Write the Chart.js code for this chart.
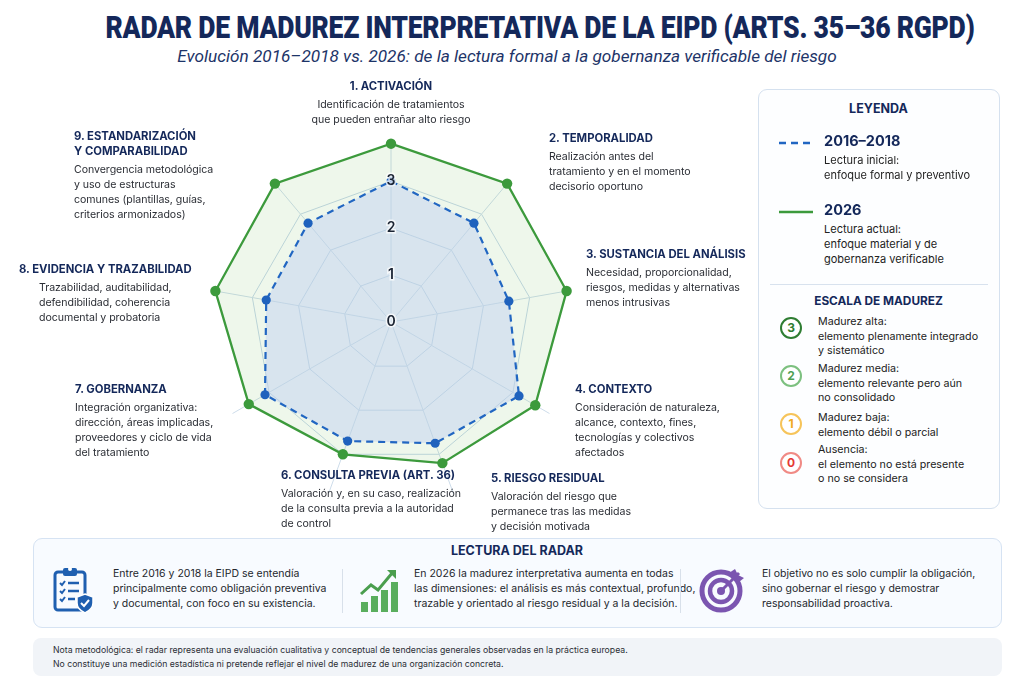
<!DOCTYPE html>
<html lang="es">
<head>
<meta charset="utf-8">
<script src="https://cdn.jsdelivr.net/npm/chart.js@4.4.1/dist/chart.umd.min.js"></script>
<style>
  html,body{margin:0;padding:0;background:#fff;}
  body{width:1024px;height:683px;position:relative;overflow:hidden;font-family:'Inter','Open Sans',sans-serif;color:#2a2d33;}
  .abs{position:absolute;}
  #title{left:0;top:8px;width:1080px;text-align:center;white-space:nowrap;}
  #title span{display:inline-block;font-family:'Roboto',sans-serif;font-weight:900;font-size:32px;color:#14285a;transform-origin:center;letter-spacing:-0.3px;}
  #subtitle{left:0;top:46px;width:1014px;text-align:center;font-family:'Roboto',sans-serif;font-style:italic;font-size:17.2px;color:#1d3468;}
  .lbl{position:absolute;font-size:10.6px;line-height:15px;color:#2b2e35;letter-spacing:-0.05px;}
  .lbl .h{font-weight:700;font-size:11.3px;color:#14285a;line-height:15px;margin-bottom:3px;white-space:nowrap;letter-spacing:0;}
  .lbl .d{white-space:nowrap;}
  #chartBox{left:181px;top:109px;width:420px;height:426px;}
  #legend{left:758px;top:89px;width:242px;height:420px;border:1.5px solid #d5e1ef;border-radius:9px;background:#fdfeff;box-sizing:border-box;}
  .lg{position:absolute;white-space:nowrap;}
  .navyB{color:#14285a;font-weight:700;}
  .circ{position:absolute;width:22px;height:22px;border-radius:50%;border:2px solid;box-sizing:border-box;text-align:center;line-height:18px;font-size:12px;font-weight:700;background:#fff;}
  #reading{left:33px;top:538px;width:969px;height:90px;border:1.5px solid #d6e3f3;border-radius:9px;background:#f8fbff;box-sizing:border-box;}
  .rt{position:absolute;top:27px;font-size:10.5px;line-height:15px;color:#24272d;white-space:nowrap;}
  .vdiv{position:absolute;top:30px;width:1px;height:44px;background:#d8e0ea;}
  #note{left:33px;top:638px;width:969px;height:38px;border-radius:8px;background:#f1f4f8;}
  #note div{position:absolute;left:20px;font-size:8.7px;color:#2b2e35;white-space:nowrap;}
</style>
</head>
<body>
<div id="title" class="abs"><span id="titleText">RADAR DE MADUREZ INTERPRETATIVA DE LA EIPD (ARTS. 35–36 RGPD)</span></div>
<div id="subtitle" class="abs">Evolución 2016–2018 vs. 2026: de la lectura formal a la gobernanza verificable del riesgo</div>

<div id="chartBox" class="abs"><canvas id="radar"></canvas></div>
<div id="labels"></div>

<div id="legend" class="abs">
  <div class="lg navyB" style="left:0;width:239px;text-align:center;top:11px;font-size:12.5px;">LEYENDA</div>
  <svg class="lg" style="left:20px;top:50px" width="34" height="6"><line x1="0" y1="3" x2="34" y2="3" stroke="#2166c2" stroke-width="2.5" stroke-dasharray="7,5"/></svg>
  <div class="lg navyB" style="left:65px;top:42px;font-size:14.5px;">2016–2018</div>
  <div class="lg" style="left:65px;top:63px;font-size:11px;line-height:15px;color:#222;">Lectura inicial:<br>enfoque formal y preventivo</div>
  <svg class="lg" style="left:20px;top:119px" width="34" height="6"><line x1="0" y1="3" x2="34" y2="3" stroke="#3c9a3c" stroke-width="2.6"/></svg>
  <div class="lg navyB" style="left:65px;top:111px;font-size:14.5px;">2026</div>
  <div class="lg" style="left:65px;top:132px;font-size:11px;line-height:15px;color:#222;">Lectura actual:<br>enfoque material y de<br>gobernanza verificable</div>
  <div class="lg" style="left:11px;top:194px;width:218px;height:1px;background:#d8e2ee;"></div>
  <div class="lg navyB" style="left:0;width:239px;text-align:center;top:204px;font-size:11.8px;">ESCALA DE MADUREZ</div>
  <div class="circ" style="left:21px;top:227px;border-color:#2e7d32;color:#2e7d32;">3</div>
  <div class="lg" style="left:59px;top:225px;font-size:10.7px;line-height:14.7px;color:#222;">Madurez alta:<br>elemento plenamente integrado<br>y sistemático</div>
  <div class="circ" style="left:21px;top:275px;border-color:#7cc07f;color:#4e9f52;">2</div>
  <div class="lg" style="left:59px;top:272px;font-size:10.7px;line-height:14.7px;color:#222;">Madurez media:<br>elemento relevante pero aún<br>no consolidado</div>
  <div class="circ" style="left:21px;top:323px;border-color:#f6c45a;color:#f0a820;">1</div>
  <div class="lg" style="left:59px;top:321px;font-size:10.7px;line-height:14.7px;color:#222;">Madurez baja:<br>elemento débil o parcial</div>
  <div class="circ" style="left:21px;top:362px;border-color:#f08a85;color:#e53935;">0</div>
  <div class="lg" style="left:59px;top:353px;font-size:10.7px;line-height:14.7px;color:#222;">Ausencia:<br>el elemento no está presente<br>o no se considera</div>
</div>

<div id="reading" class="abs">
  <div class="abs navyB" style="left:0;width:966px;text-align:center;top:4px;font-size:12.5px;">LECTURA DEL RADAR</div>
  <!-- portapapeles -->
  <svg class="abs" style="left:19px;top:27px" width="42" height="48" viewBox="0 0 42 48">
    <rect x="2" y="6" width="30" height="38" rx="3" fill="none" stroke="#1f5fb0" stroke-width="3"/>
    <rect x="10" y="2" width="14" height="8" rx="2" fill="#1f5fb0"/>
    <circle cx="17" cy="3" r="2" fill="#fff"/>
    <path d="M7 17l2 2 3-4M7 25l2 2 3-4M7 33l2 2 3-4" fill="none" stroke="#1f5fb0" stroke-width="2"/>
    <path d="M15 17h11M15 25h11M15 33h7" stroke="#1f5fb0" stroke-width="2.4"/>
    <path d="M32 28l8 3v6c0 5-4 8-8 10-4-2-8-5-8-10v-6z" fill="#1f5fb0" stroke="#fff" stroke-width="1.5"/>
    <path d="M28 37l3 3 5-6" fill="none" stroke="#fff" stroke-width="2"/>
  </svg>
  <div class="rt" style="left:79px;">Entre 2016 y 2018 la EIPD se entendía<br>principalmente como obligación preventiva<br>y documental, con foco en su existencia.</div>
  <div class="vdiv" style="left:308px;"></div>
  <!-- crecimiento -->
  <svg class="abs" style="left:325px;top:27px" width="42" height="48" viewBox="0 0 42 48">
    <rect x="2" y="36" width="7" height="10" fill="#5aae5e"/>
    <rect x="12" y="30" width="7" height="16" fill="#5aae5e"/>
    <rect x="22" y="24" width="7" height="22" fill="#5aae5e"/>
    <rect x="32" y="16" width="7" height="30" fill="#5aae5e"/>
    <path d="M2 28l10-9 7 5 15-18" fill="none" stroke="#4a9e4e" stroke-width="3"/>
    <path d="M28 4h9v9z" fill="#4a9e4e"/>
  </svg>
  <div class="rt" style="left:380px;">En 2026 la madurez interpretativa aumenta en todas<br>las dimensiones: el análisis es más contextual, profundo,<br>trazable y orientado al riesgo residual y a la decisión.</div>
  <div class="vdiv" style="left:646px;"></div>
  <!-- diana -->
  <svg class="abs" style="left:665px;top:26px" width="48" height="48" viewBox="0 0 48 48">
    <circle cx="22" cy="26" r="19" fill="none" stroke="#7b55b0" stroke-width="5"/>
    <circle cx="22" cy="26" r="11" fill="none" stroke="#7b55b0" stroke-width="4.5"/>
    <circle cx="22" cy="26" r="4" fill="#7b55b0"/>
    <path d="M22 26L40 8" stroke="#7b55b0" stroke-width="3"/>
    <path d="M36 4l3 6 6 3-5 4-7-3-3-6z" fill="#7b55b0"/>
  </svg>
  <div class="rt" style="left:728px;">El objetivo no es solo cumplir la obligación,<br>sino gobernar el riesgo y demostrar<br>responsabilidad proactiva.</div>
</div>

<div id="note" class="abs">
  <div style="top:7px;">Nota metodológica: el radar representa una evaluación cualitativa y conceptual de tendencias generales observadas en la práctica europea.</div>
  <div style="top:21px;">No constituye una medición estadística ni pretende reflejar el nivel de madurez de una organización concreta.</div>
</div>

<script>
// ── datos del radar ──
const categorias=['1. ACTIVACIÓN','2. TEMPORALIDAD','3. SUSTANCIA DEL ANÁLISIS','4. CONTEXTO','5. RIESGO RESIDUAL','6. CONSULTA PREVIA (ART. 36)','7. GOBERNANZA','8. EVIDENCIA Y TRAZABILIDAD','9. ESTANDARIZACIÓN|Y COMPARABILIDAD'];
const descripciones=[
  'Identificación de tratamientos|que pueden entrañar alto riesgo',
  'Realización antes del|tratamiento y en el momento|decisorio oportuno',
  'Necesidad, proporcionalidad,|riesgos, medidas y alternativas|menos intrusivas',
  'Consideración de naturaleza,|alcance, contexto, fines,|tecnologías y colectivos|afectados',
  'Valoración del riesgo que|permanece tras las medidas|y decisión motivada',
  'Valoración y, en su caso, realización|de la consulta previa a la autoridad|de control',
  'Integración organizativa:|dirección, áreas implicadas,|proveedores y ciclo de vida|del tratamiento',
  'Trazabilidad, auditabilidad,|defendibilidad, coherencia|documental y probatoria',
  'Convergencia metodológica|y uso de estructuras|comunes (plantillas, guías,|criterios armonizados)'
];
const serie2016=[3.0,2.75,2.55,3.15,2.75,2.7,3.1,2.7,2.75];
const serie2026=[3.8,3.85,3.8,3.55,3.2,3.0,3.5,3.8,3.85];
const ticksEscala=[0,1,2,3];

// posición de cada bloque de texto (left, top, alineación, sangría de la descripción)
const posLabels=[
  {x:291,y:79,w:200,al:'center'},
  {x:549,y:131},
  {x:586,y:247},
  {x:575,y:382},
  {x:491,y:471},
  {x:281,y:468},
  {x:75,y:382},
  {x:19,y:262,ind:20},
  {x:74,y:129}
];

// bloques de etiquetas
const cont=document.getElementById('labels');
categorias.forEach((c,i)=>{
  const p=posLabels[i];
  const el=document.createElement('div');
  el.className='lbl';
  el.style.left=p.x+'px';el.style.top=p.y+'px';
  if(p.w){el.style.width=p.w+'px';el.style.textAlign=p.al;}
  el.innerHTML=`<div class="h">${c.split('|').join('<br>')}</div><div class="d" style="margin-left:${p.ind||0}px">${descripciones[i].split('|').join('<br>')}</div>`;
  cont.appendChild(el);
});

// ajustar ancho del título
const tt=document.getElementById('titleText');
tt.style.transform=`scaleX(${869/tt.offsetWidth})`;

new Chart(document.getElementById('radar'),{
  type:'radar',
  data:{labels:categorias.map(c=>c.replace('|',' ')),datasets:[
    {label:'2026',data:serie2026,borderColor:'#3c9a3c',backgroundColor:'rgba(120,190,100,0.13)',borderWidth:2.3,pointRadius:5.2,pointBackgroundColor:'#3c9a3c',pointBorderWidth:0,fill:true,order:2},
    {label:'2016–2018',data:serie2016,borderColor:'#2166c2',backgroundColor:'rgba(193,210,242,0.5)',borderWidth:2.2,borderDash:[7,5],pointRadius:4.6,pointBackgroundColor:'#1f62bd',pointBorderWidth:0,fill:true,order:1}
  ]},
  options:{responsive:true,maintainAspectRatio:false,animation:false,
    layout:{padding:20},
    plugins:{legend:{display:false},tooltip:{enabled:false}},
    scales:{r:{min:-0.001,max:3.9,
      afterBuildTicks:s=>{s.ticks=ticksEscala.map(v=>({value:v}));},
      ticks:{stepSize:1,z:1,showLabelBackdrop:false,backdropPadding:0,color:'#1b2433',textStrokeColor:'rgba(255,255,255,0.75)',textStrokeWidth:3,font:{size:14,weight:'600',family:'Inter'},callback:v=>String(v)},
      grid:{color:c=>c.tick&&c.tick.value===0?'rgba(0,0,0,0)':'#c4d6e8',lineWidth:1},
      angleLines:{color:'#cddcea',lineWidth:1},
      pointLabels:{display:false}
    }}
  }
});
</script>
</body>
</html>
